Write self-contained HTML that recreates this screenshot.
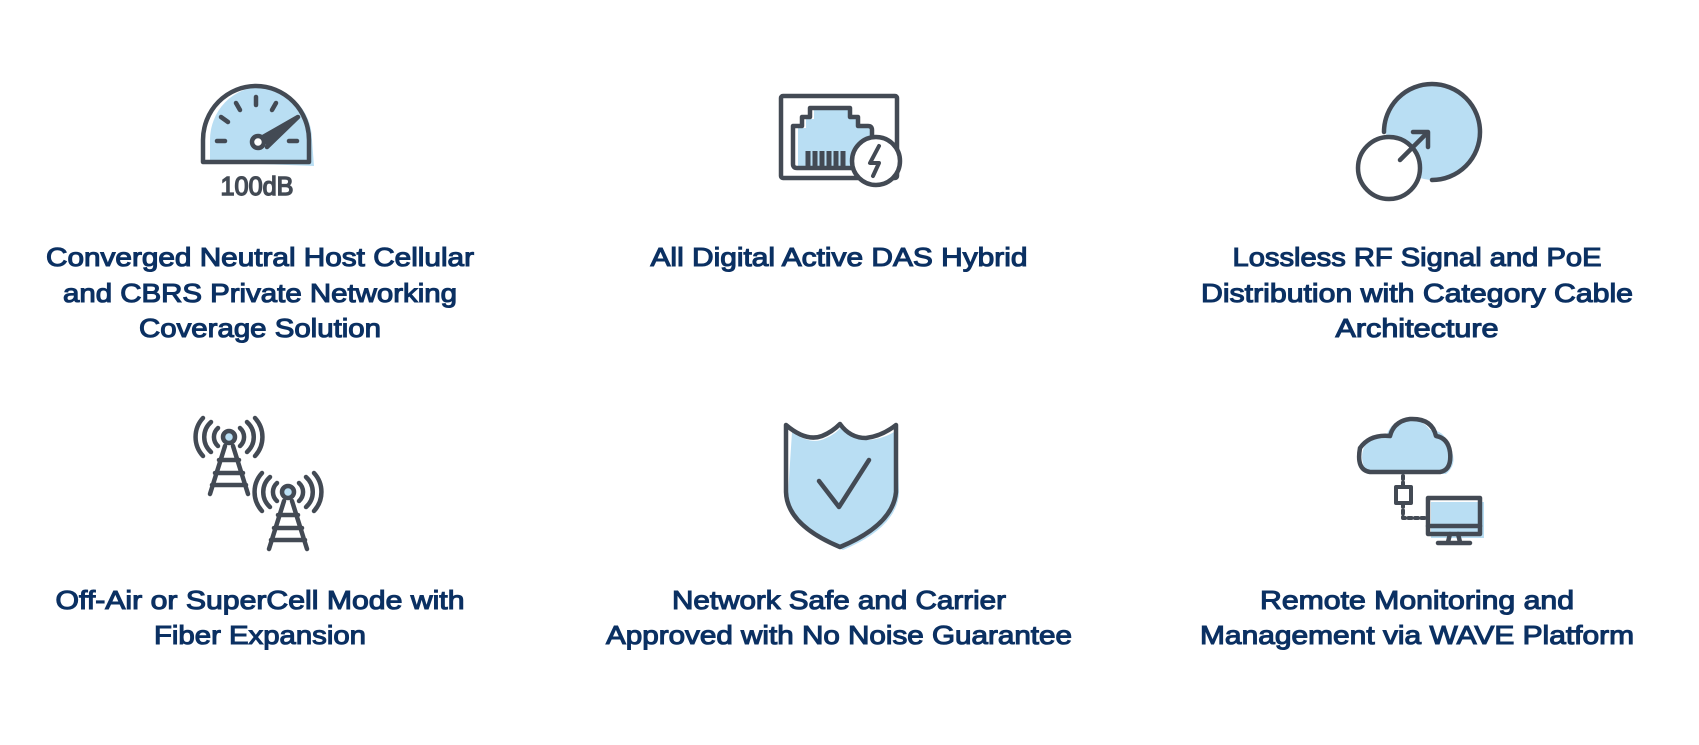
<!DOCTYPE html>
<html><head><meta charset="utf-8"><style>
html,body{margin:0;padding:0;background:#fff;}
svg{display:block}
text{font-family:"Liberation Sans",sans-serif;font-weight:normal;fill:#0b3062;stroke:#0b3062;stroke-width:1.1px;font-size:26px;}
</style></head><body>
<svg width="1699" height="745" viewBox="0 0 1699 745" xmlns="http://www.w3.org/2000/svg">
<g fill="none" stroke="#434a54" stroke-width="4.5" stroke-linecap="round" stroke-linejoin="round">
<!-- Gauge -->
<path d="M210 162 L210 140 A50 52 0 0 1 312 140 L314 166 Z" fill="#b9def3" stroke="none"/>
<path d="M203 162 L203 140 A53 54 0 0 1 309 140 L309 162 Z"/>
<line x1="217" y1="141" x2="225" y2="141"/><line x1="289" y1="141" x2="297" y2="141"/>
<line x1="221" y1="117" x2="228" y2="122"/><line x1="236" y1="103" x2="240" y2="110"/>
<line x1="256" y1="97" x2="256" y2="105"/><line x1="276" y1="103" x2="272" y2="110"/>
<circle cx="258" cy="142" r="6" fill="#fff"/>
<path d="M263 137 L298 117 L267 147" fill="#434a54"/>
<!-- Ethernet -->
<rect x="781" y="96" width="116" height="82" rx="2"/>
<path d="M798 128 L806 128 L806 119 L814 119 L814 110 L852 110 L852 119 L860 119 L860 128 L873 128 L873 170 L798 170 Z" fill="#b9def3" stroke="none"/>
<path d="M793 126 L802 126 L802 117 L810 117 L810 108 L850 108 L850 117 L858 117 L858 126 L868 126 Q872 126 872 130 L872 168 L797 168 Q793 168 793 164 Z"/>
<g stroke-width="5" stroke-linecap="butt"><line x1="808" y1="151" x2="808" y2="166"/><line x1="815" y1="151" x2="815" y2="166"/><line x1="822" y1="151" x2="822" y2="166"/><line x1="829" y1="151" x2="829" y2="166"/><line x1="836" y1="151" x2="836" y2="166"/><line x1="843" y1="151" x2="843" y2="166"/></g>
<circle cx="876" cy="161" r="24" fill="#fff"/>
<path d="M879 146 L870 163 L879 163 L873 176" stroke-width="4"/>
<!-- Circles -->
<circle cx="1434" cy="132" r="48" fill="#b9def3" stroke="none"/>
<path d="M1384 132 A48 48 0 1 1 1432 180"/>
<circle cx="1389" cy="168" r="31" fill="#fff"/>
<line x1="1400" y1="160" x2="1427" y2="133"/><path d="M1413 132 L1428 132 L1428 147"/>
<!-- Towers -->
<path d="M225 446 L210 494 M233 446 L248 494 M219 460 L239 460 M215 473 L243 473 M212 485 L246 485"/>
<circle cx="229" cy="437" r="6" fill="#b9def3"/>
<path d="M218 428 A12 12 0 0 0 218 446 M240 428 A12 12 0 0 1 240 446 M211 422 A20 20 0 0 0 211 452 M247 422 A20 20 0 0 1 247 452 M203 418 A28 28 0 0 0 203 456 M255 418 A28 28 0 0 1 255 456"/>
<path d="M284 501 L269 549 M292 501 L307 549 M278 515 L298 515 M274 528 L302 528 M271 540 L305 540"/>
<circle cx="288" cy="492" r="6" fill="#b9def3"/>
<path d="M277 483 A12 12 0 0 0 277 501 M299 483 A12 12 0 0 1 299 501 M270 477 A20 20 0 0 0 270 507 M306 477 A20 20 0 0 1 306 507 M262 473 A28 28 0 0 0 262 511 M314 473 A28 28 0 0 1 314 511"/>
<!-- Shield -->
<path d="M792 432 Q812 446 826 438 Q836 434 842 426 Q852 440 870 440 Q886 438 897 430 L899 494 Q896 528 843 550 Q790 528 788 494 Z" fill="#b9def3" stroke="none"/>
<path d="M786 425 Q806 442 822 436 Q832 432 840 424 Q850 438 866 438 Q882 436 896 425 L896 492 Q893 525 840 547 Q787 525 786 492 Z"/>
<path d="M819 481 L839 507 L869 460"/>
<!-- Cloud / monitor -->
<path d="M1372 474 L1446 474 Q1460 462 1448 444 Q1444 430 1430 430 Q1420 416 1400 420 Q1388 426 1386 438 Q1362 436 1362 458 Q1364 474 1372 474 Z" fill="#b9def3" stroke="none"/>
<path d="M1370 472 L1440 472 Q1452 470 1450 452 Q1448 438 1436 436 Q1432 418 1410 419 Q1394 421 1390 436 Q1370 434 1360 448 Q1356 470 1370 472 Z"/>
<path d="M1403 476 L1403 486 M1403 504 L1403 518 L1426 518" stroke-dasharray="3 3.5" stroke-width="4"/>
<rect x="1396" y="487" width="15" height="16" stroke-width="4"/>
<rect x="1431" y="502" width="53" height="36" fill="#b9def3" stroke="none"/>
<rect x="1428" y="498" width="52" height="36"/>
<line x1="1428" y1="526" x2="1480" y2="526"/>
<path d="M1450 534 L1448 542 M1458 534 L1460 542 M1438 543 L1470 543"/>
</g>
<text x="257" y="195" text-anchor="middle" font-size="24" textLength="73" lengthAdjust="spacingAndGlyphs" style="fill:#434a54;stroke:#434a54;stroke-width:1.4px">100dB</text>
<g text-anchor="middle">
<text x="260" y="266" textLength="428" lengthAdjust="spacingAndGlyphs">Converged Neutral Host Cellular</text>
<text x="260" y="302" textLength="394" lengthAdjust="spacingAndGlyphs">and CBRS Private Networking</text>
<text x="260" y="337" textLength="242" lengthAdjust="spacingAndGlyphs">Coverage Solution</text>
<text x="839" y="266" textLength="377" lengthAdjust="spacingAndGlyphs">All Digital Active DAS Hybrid</text>
<text x="1417" y="266" textLength="369" lengthAdjust="spacingAndGlyphs">Lossless RF Signal and PoE</text>
<text x="1417" y="302" textLength="432" lengthAdjust="spacingAndGlyphs">Distribution with Category Cable</text>
<text x="1417" y="337" textLength="163" lengthAdjust="spacingAndGlyphs">Architecture</text>
<text x="260" y="609" textLength="409" lengthAdjust="spacingAndGlyphs">Off-Air or SuperCell Mode with</text>
<text x="260" y="644" textLength="212" lengthAdjust="spacingAndGlyphs">Fiber Expansion</text>
<text x="839" y="609" textLength="334" lengthAdjust="spacingAndGlyphs">Network Safe and Carrier</text>
<text x="839" y="644" textLength="466" lengthAdjust="spacingAndGlyphs">Approved with No Noise Guarantee</text>
<text x="1417" y="609" textLength="314" lengthAdjust="spacingAndGlyphs">Remote Monitoring and</text>
<text x="1417" y="644" textLength="434" lengthAdjust="spacingAndGlyphs">Management via WAVE Platform</text>
</g>
</svg>
</body></html>
